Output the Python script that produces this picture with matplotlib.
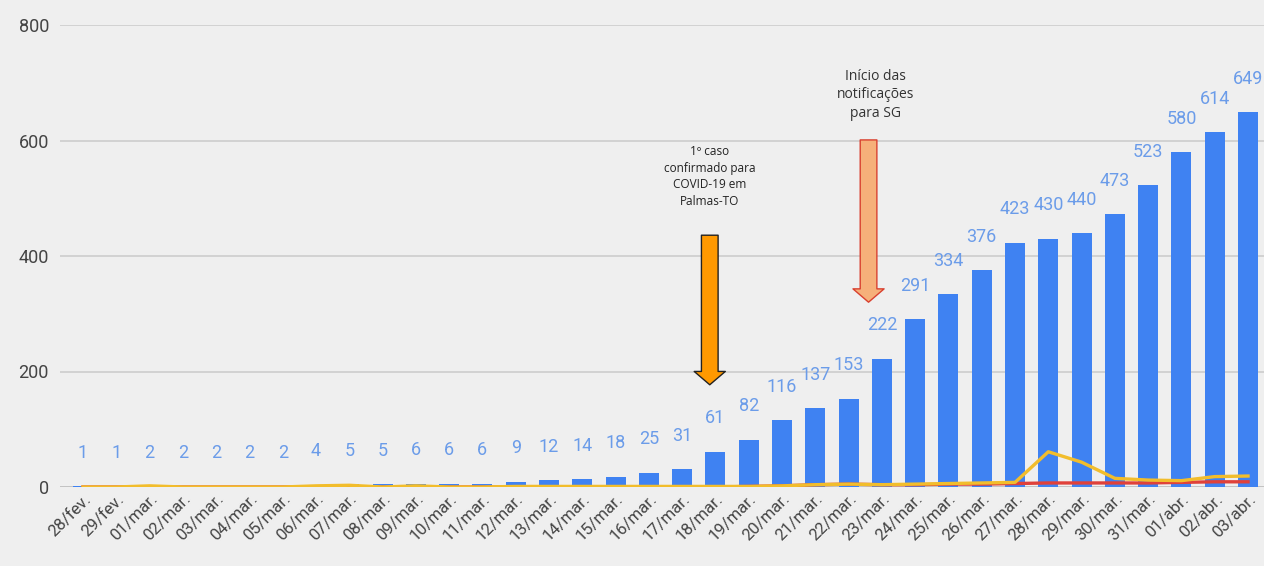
import matplotlib
matplotlib.use('Agg')
import matplotlib.pyplot as plt
import numpy as np

plt.rcParams['font.family'] = ['Roboto', 'DejaVu Sans']

dates = ['28/fev.', '29/fev.'] + ['%02d/mar.' % d for d in range(1, 32)] + ['01/abr.', '02/abr.', '03/abr.']
cases = [1, 1, 2, 2, 2, 2, 2, 4, 5, 5, 6, 6, 6, 9, 12, 14, 18, 25, 31, 61, 82,
         116, 137, 153, 222, 291, 334, 376, 423, 430, 440, 473, 523, 580, 614, 649]
yellow_series = [0, 0, 2, 0, 0, 0, 0, 2, 3, 0, 2, 0, 0, 1, 1, 1, 1, 1, 1, 1, 1,
                 2, 4, 5, 4, 5, 6, 7, 8, 61, 43, 15, 12, 11, 18, 19]
red_series = [0, 0, 0, 0, 0, 0, 0, 0, 0, 0, 0, 0, 0, 0, 0, 0, 0, 0, 0, 0, 1,
              2, 4, 5, 4, 4, 5, 5, 6, 7, 7, 7, 7, 8, 9, 9]

BG = '#efefef'
BAR = '#3f82f2'
LABEL = '#6b9ce9'

fig = plt.figure(figsize=(12.64, 5.66), dpi=100, facecolor=BG)
ax = fig.add_axes([60 / 1264, (566 - 487) / 566, 1 - 60 / 1264, (487 - 25) / 566])
ax.set_facecolor(BG)

x = np.arange(len(dates))
ax.bar(x, cases, width=0.6, color=BAR, zorder=2)
ax.plot(x, red_series, color='#e0413a', linewidth=2.4, zorder=3)
ax.plot(x, yellow_series, color='#f2bd2c', linewidth=2.4, zorder=4)

for xi, v in zip(x, cases):
    ax.annotate(str(v), (xi, v), xytext=(0, 24), textcoords='offset points',
                ha='center', va='center', fontsize=13, color=LABEL, zorder=5)

ax.set_xlim(-0.69, 35.48)
ax.set_ylim(0, 800)
ax.set_yticks([0, 200, 400, 600, 800])
ax.yaxis.grid(True, color='#cfcfcf', linewidth=1.3, zorder=0)
ax.axhline(0, color='#444444', linewidth=1.3, zorder=1)
for s in ax.spines.values():
    s.set_visible(False)
ax.tick_params(axis='y', length=0, pad=8, labelsize=13, labelcolor='#444444')
ax.tick_params(axis='x', length=0, pad=3, labelsize=12, labelcolor='#444444')
ax.set_xticks(x)
ax.set_xticklabels(dates, rotation=45, ha='right', rotation_mode='anchor')

# arrow 1: first confirmed case
ax.annotate('', xy=(18.83, 177), xytext=(18.83, 436),
            arrowprops=dict(arrowstyle='simple,head_width=1.4,head_length=0.6,tail_width=0.75',
                            mutation_scale=16, facecolor='#ff9900', edgecolor='#222222',
                            linewidth=1.0, shrinkA=0, shrinkB=0), zorder=6)
ax.text(18.83, 538, '1º caso\nconfirmado para\nCOVID-19 em\nPalmas-TO', ha='center', va='center',
        fontsize=8.5, color='#222222', family=['Open Sans', 'DejaVu Sans'], linespacing=1.35, zorder=6)

# arrow 2: SG notifications
ax.annotate('', xy=(23.6, 320), xytext=(23.6, 601),
            arrowprops=dict(arrowstyle='simple,head_width=1.4,head_length=0.6,tail_width=0.75',
                            mutation_scale=16, facecolor='#f6b07a', edgecolor='#d9402f',
                            linewidth=1.0, shrinkA=0, shrinkB=0), zorder=6)
ax.text(23.8, 679, 'Início das\nnotificações\npara SG', ha='center', va='center',
        fontsize=10, color='#333333', family=['Open Sans', 'DejaVu Sans'], linespacing=1.3, zorder=6)

fig.savefig('out.png', dpi=100, facecolor=BG)
